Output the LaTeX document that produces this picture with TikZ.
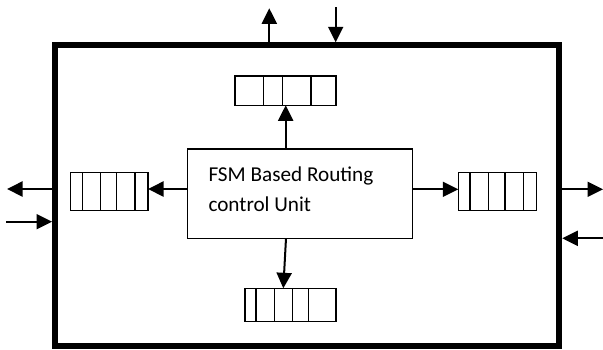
\documentclass[tikz,border=0pt]{standalone}
\usepackage{fontspec}
\setmainfont{Carlito}
\usetikzlibrary{arrows.meta}
\tikzset{
  arr/.style={line width=2, -{Triangle[length=15.5, width=15]}},
  outerbox/.style={draw, line width=6, rectangle, inner sep=0},
  fsmbox/.style={draw, line width=1.3, rectangle, inner sep=0},
  queue/.style={draw, line width=1.2, rectangle, inner sep=0, outer sep=0},
  qline/.style={line width=1.2},
  lbl/.style={inner sep=0, align=left, font=\fontsize{21.2}{29.3}\selectfont}
}
\begin{document}
\begin{tikzpicture}[x=1pt, y=-1pt]
\useasboundingbox (0,0) rectangle (603,349);
% outer box
\node[outerbox, minimum width=504.3, minimum height=300.4] (outer) at (307.15,195.5) {};
% FSM unit
\node[fsmbox, minimum width=225.4, minimum height=89.3] (fsm) at (300,193.65) {};
\node[lbl, anchor=base west] (fsmtext) at (208.3,211) {FSM Based Routing\\control Unit};
% queues
\node[queue, minimum width=77.3, minimum height=38] (lq) at (109.35,191.7) {};
\node[queue, minimum width=78.4, minimum height=38] (rq) at (497.5,191.7) {};
\node[queue, minimum width=101, minimum height=29.3] (tq) at (285.5,90.65) {};
\node[queue, minimum width=91, minimum height=33.4] (bq) at (290.5,305) {};
\foreach \x in {82.3,100.7,116.7,135} \draw[qline] (\x,0 |- lq.north) -- (\x,0 |- lq.south);
\foreach \x in {470,488.3,505,523.3} \draw[qline] (\x,0 |- rq.north) -- (\x,0 |- rq.south);
\foreach \x in {263.3,282.3,311} \draw[qline] (\x,0 |- tq.north) -- (\x,0 |- tq.south);
\foreach \x in {256,274.3,292.7,308.3} \draw[qline] (\x,0 |- bq.north) -- (\x,0 |- bq.south);
% internal connectors
\coordinate (fn) at (285.7,149);
\coordinate (fs) at (286,238.3);
\coordinate (bqin) at (283.3,288.3);
\draw[arr] (fn) -- (fn |- tq.south);
\draw[arr] (fs) -- (bqin);
\draw[arr] (fsm.west |- 0,189) -- (lq.east |- 0,189);
\draw[arr] (fsm.east |- 0,189.3) -- (rq.west |- 0,189.3);
% external connectors
\coordinate (lout) at (7,189);
\coordinate (lin) at (6,221.7);
\coordinate (rout) at (603,189.3);
\coordinate (rin) at (603,238.3);
\coordinate (tout) at (269.3,8.3);
\coordinate (tin) at (335.7,7.3);
\draw[arr] (outer.center |- lout) ++(-250,0) -- (lout);
\draw[arr] (lin) -- (lin -| outer.west);
\draw[arr] (rout -| outer.center) ++(250,0) -- (rout);
\draw[arr] (rin) -- (rin -| outer.east);
\draw[arr] (tout |- outer.center) ++(0,-150) -- (tout);
\draw[arr] (tin) -- (tin |- outer.north);
\end{tikzpicture}
\end{document}
